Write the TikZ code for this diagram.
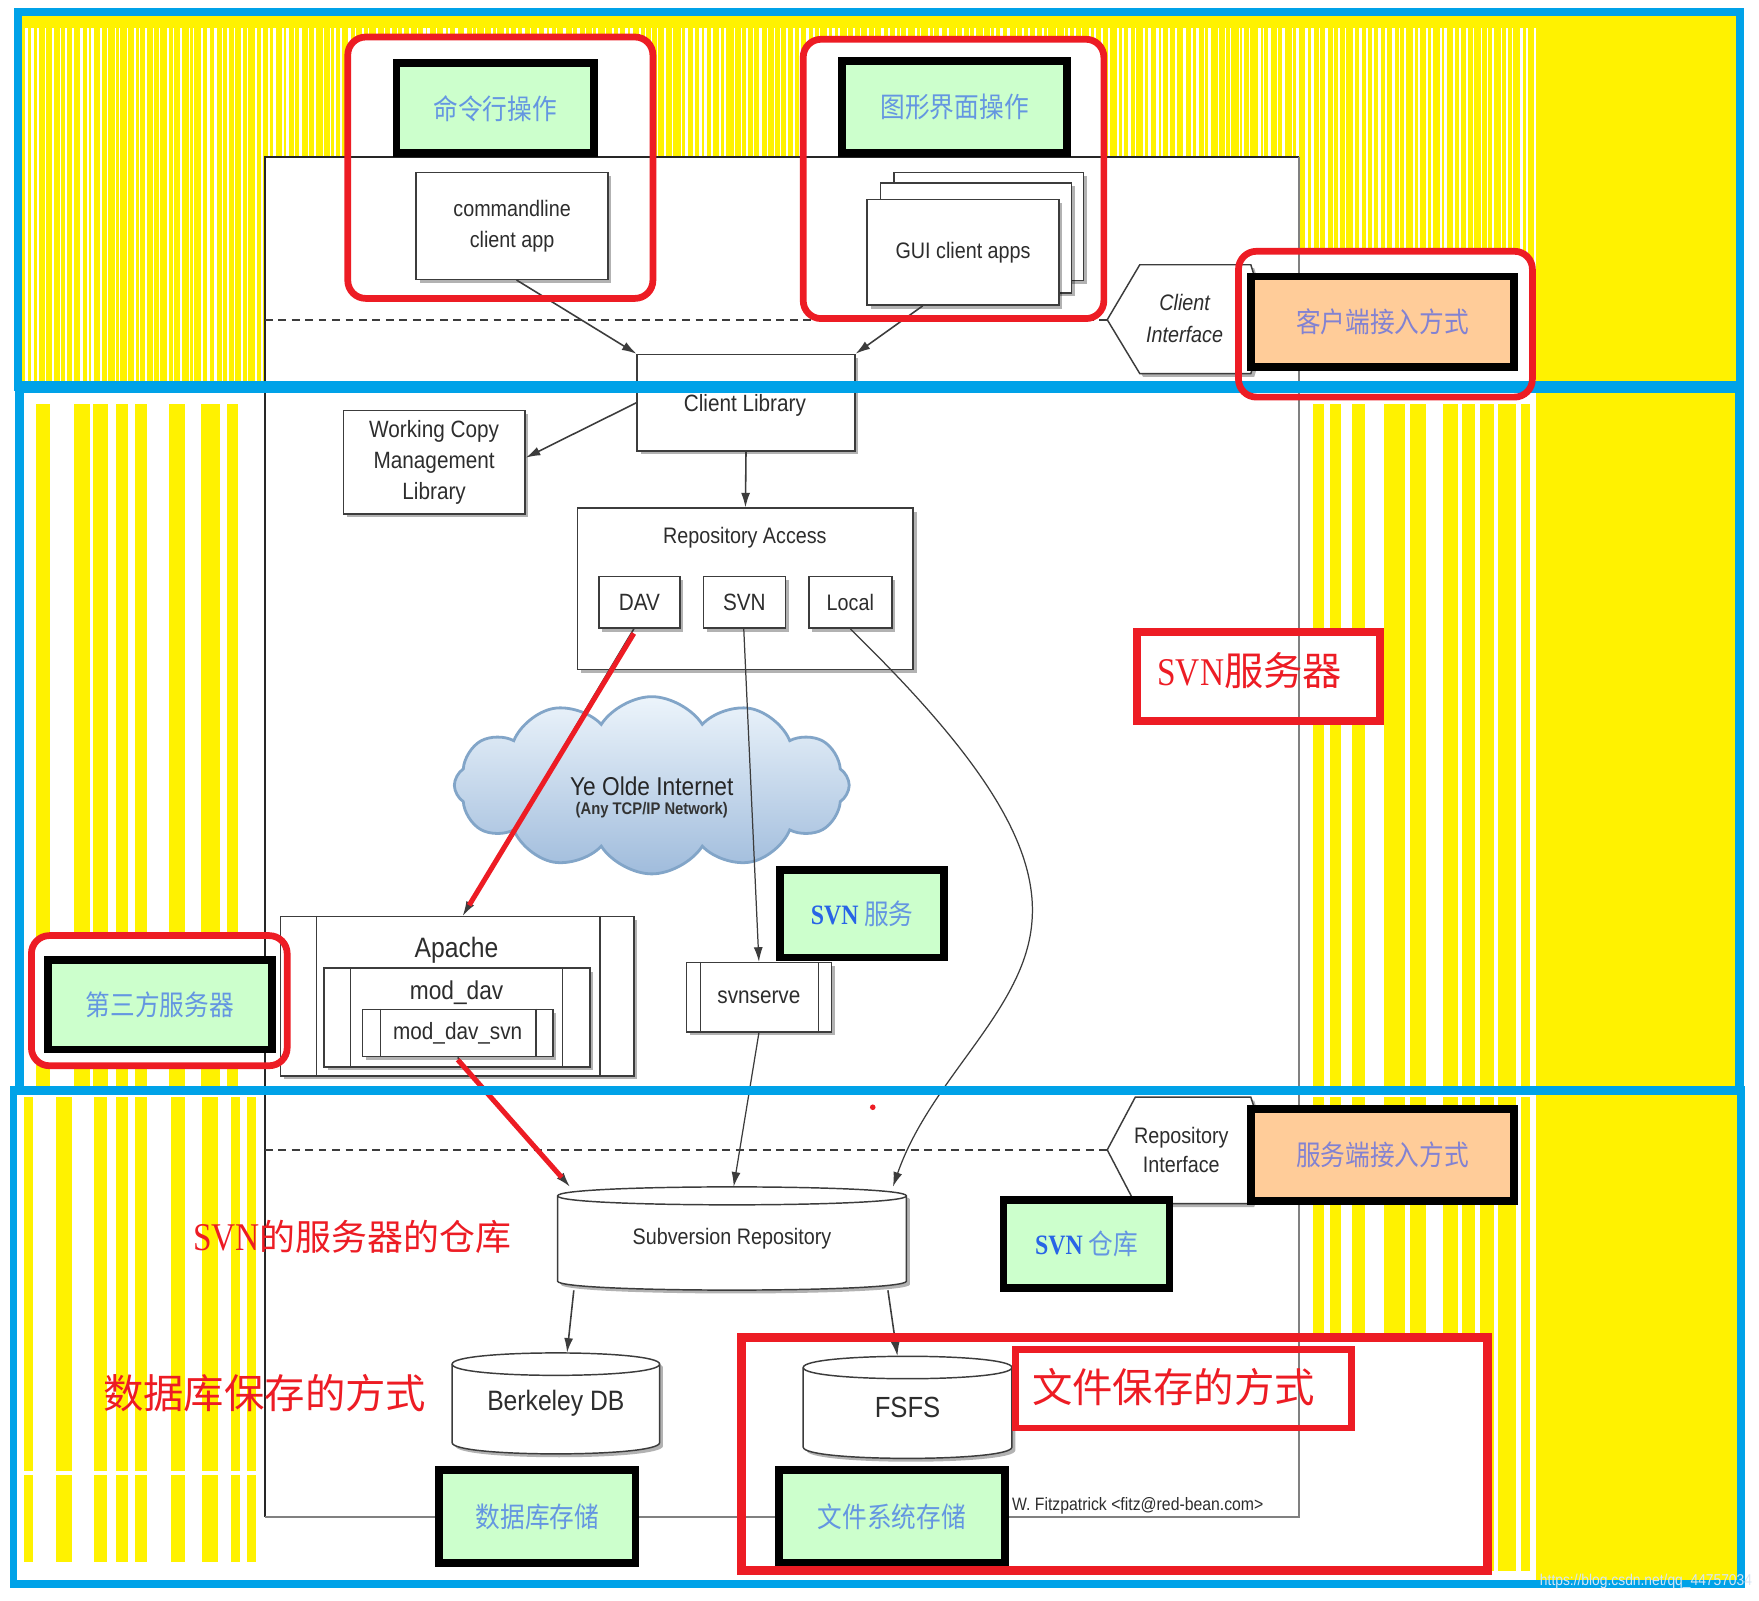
\documentclass[tikz,border=0pt]{standalone}
\usepackage{fontspec}
\setmainfont{Liberation Sans}
\newfontfamily\dgm[FakeStretch=0.88]{Liberation Sans}
\newfontfamily\cjkn[FakeStretch=0.88]{Noto Sans CJK SC}
\newfontfamily\cjkr{Noto Sans CJK SC}
\newfontfamily\serifn[FakeStretch=0.85]{Liberation Serif}
\usetikzlibrary{arrows.meta,shapes.symbols,shadows}
\definecolor{ylw}{RGB}{255,242,0}
\definecolor{bl}{RGB}{0,162,232}
\definecolor{red1}{RGB}{237,28,36}
\definecolor{lgreen}{RGB}{204,255,204}
\definecolor{lorange}{RGB}{255,204,153}
\definecolor{gtext}{RGB}{100,150,225}
\definecolor{otext}{RGB}{130,130,210}
\definecolor{sblue}{RGB}{40,100,230}
\definecolor{dg}{RGB}{60,60,60}
\definecolor{tg}{RGB}{45,45,45}
\definecolor{cbord}{RGB}{130,165,200}
\definecolor{ctop}{RGB}{236,244,251}
\definecolor{cbot}{RGB}{160,188,220}
\definecolor{wm}{RGB}{215,230,245}
\tikzset{
  bshadow/.style={drop shadow={shadow xshift=3pt,shadow yshift=-3pt,fill=black,opacity=0.3}},
  box/.style={draw=dg,line width=1.3pt,fill=white,inner sep=0pt,align=center,
    font=\dgm\fontsize{20}{28}\selectfont,text=tg,bshadow},
  txt/.style={inner sep=0pt,align=center,font=\dgm\fontsize{20}{28}\selectfont,text=tg},
  gbox/.style={draw=black,line width=7pt,fill=lgreen,inner sep=0pt,
    font=\cjkn\fontsize{25}{30}\selectfont,text=gtext},
  obox/.style={gbox,fill=lorange,text=otext},
  redr/.style={draw=red1,line width=6pt,rounded corners=16pt},
  redtxt/.style={inner sep=0pt,text=red1,font=\cjkr\fontsize{36}{40}\selectfont},
  arr/.style={draw=dg,line width=1.4pt,-{Latex[length=13pt,width=8pt]}},
  redarr/.style={draw=red1,line width=4.5pt,shorten >=11pt},
  dline/.style={draw=dg,line width=1.3pt},
  dashl/.style={draw=dg,line width=1.8pt,dash pattern=on 7pt off 5pt},
}
\newcommand\bx[7][box]{\node[#1,minimum width={#4-#2},minimum height={#5-#3}] (#6) at ({(#2+#4)/2},{(#3+#5)/2}) {#7};}
\newcommand\gbx[7][gbox]{\node[#1,minimum width={#4-#2-7},minimum height={#5-#3-7}] (#6) at ({(#2+#4)/2},{(#3+#5)/2}) {#7};}
\newcommand\cyl[7]{%
  \pgfmathsetmacro\cxl{#2-#5}%
  \pgfmathsetmacro\cxr{#2+#5}%
  \pgfmathsetmacro\cyc{#3+#6}%
  \pgfmathsetmacro\cyb{#4-#6}%
  \pgfmathsetmacro\kc{#6*1.333}%
  \draw[dline,fill=white,bshadow] (\cxl,\cyc) -- (\cxl,\cyb) .. controls (\cxl,\cyb+\kc) and (\cxr,\cyb+\kc) .. (\cxr,\cyb) -- (\cxr,\cyc) .. controls (\cxr,\cyc-\kc) and (\cxl,\cyc-\kc) .. cycle;
  \draw[dline] (\cxl,\cyc) .. controls (\cxl,\cyc+\kc) and (\cxr,\cyc+\kc) .. (\cxr,\cyc);
  \node[txt,minimum width={2*#5},minimum height={#4-#3}] (#1) at (#2,{(#3+#4)/2}) {#7};
}
\begin{document}
\begin{tikzpicture}[x=1pt,y=-1pt]
\useasboundingbox (0,0) rectangle (1568,1427);
\fill[white] (0,0) rectangle (1568,1427);
% ---------- yellow stripes ----------
\fill[ylw] (19,14) rectangle (1548,341);
\pgfmathsetseed{11}
\foreach \i in {0,...,224}{
  \pgfmathsetmacro\xx{22+\i*6+rnd*3}
  \pgfmathsetmacro\ww{0.6+rnd*2.2}
  \draw[white,line width=\ww pt] (\xx,25) -- (\xx,341);
}
\fill[ylw] (1369,350) rectangle (1548,968);
\foreach \a/\b in {32/45,66/80,83/96,103/114,120/131,151/165,179/196,202/212,1170/1180,1186/1195,1205/1217,1234/1252,1257/1271,1286/1300,1303/1315,1319/1332,1335/1351,1356/1364}
  {\fill[ylw] (\a,360) rectangle (\b,968);}
\fill[ylw] (1369,976) rectangle (1548,1409);
\foreach \a/\b in {21/29,50/64,84/95,103/114,120/131,152/165,180/194,206/214,220/228}
  {\fill[ylw] (\a,978) rectangle (\b,1392);}
\foreach \a/\b in {1170/1180,1186/1195,1205/1217,1234/1252,1257/1271,1286/1300,1303/1315,1319/1332,1335/1351,1356/1364}
  {\fill[ylw] (\a,978) rectangle (\b,1400);}
\fill[white] (19,1311) rectangle (232,1315);
% ---------- white interiors of red marks ----------
\fill[white,rounded corners=16pt] (310,33) rectangle (582,266);
\fill[white,rounded corners=16pt] (716,35) rectangle (984,284);
\fill[white,rounded corners=16pt] (1104,224) rectangle (1366,354);
\fill[white,rounded corners=16pt] (28,834) rectangle (256,950);
\fill[white] (1013.5,563.5) rectangle (1230.5,642.5);
\fill[white] (661,1192) rectangle (1326,1400);
% ---------- diagram frame ----------
\fill[white] (236,140) rectangle (1158,1352);
\draw[black!85,line width=2pt] (236,1352) -- (236,140) -- (1158,140);
\draw[black!50,line width=2pt] (1158,140) -- (1158,1352) -- (236,1352);
% dashed boundaries
\coordinate (dl1) at (236,285);
\coordinate (citip) at (987,285);
\coordinate (dl2) at (236,1025);
\coordinate (ritip) at (987,1025);
\draw[dashl] (dl1) -- (citip);
\draw[dashl] (dl2) -- (ritip);
% interface hexagons
\draw[dline,fill=white,bshadow] (citip) -- (1016,236) -- (1115,236) -- (1130,285) -- (1115,333) -- (1016,333) -- cycle;
\draw[dline,fill=white,bshadow] (ritip) -- (1012,978) -- (1115,978) -- (1130,1025) -- (1115,1073) -- (1012,1073) -- cycle;
\node[txt,font=\dgm\itshape\fontsize{20}{28}\selectfont] (cit) at (1056,284) {Client\\Interface};
\node[txt,font=\dgm\fontsize{20}{26}\selectfont] (rit) at (1053,1025) {Repository\\Interface};
% ---------- boxes ----------
\bx{371}{154}{542}{249}{cmdapp}{commandline\\client app}
\bx{797}{154}{966}{250}{guib}{}
\bx{785}{163}{955}{261}{guim}{}
\bx{773}{178}{944}{272}{gui}{GUI client apps}
\bx{568}{316}{762}{402}{clib}{}
\node[txt,font=\dgm\fontsize{21}{26}\selectfont] (clibt) at (664,361) {Client Library};
\bx[box,font=\dgm\fontsize{21}{27.5}\selectfont]{306}{366}{468}{458}{wcml}{Working Copy\\Management\\Library}
\bx{515}{453}{814}{597}{ra}{}
\node[txt] (rat) at (664,479) {Repository Access};
\bx[box,font=\dgm\fontsize{21}{26}\selectfont]{534}{514}{606}{560}{dav}{DAV}
\bx[box,font=\dgm\fontsize{21}{26}\selectfont]{627}{514}{700}{560}{svnb}{SVN}
\bx{721}{514}{795}{560}{local}{Local}
% cloud
\node[cloud,cloud puffs=12,cloud puff arc=115,aspect=2.2,draw=cbord,line width=2.5pt,
  top color=ctop,bottom color=cbot,minimum width=352pt,minimum height=158pt,inner sep=0pt] (net) at (581,700) {};
\node[txt,font=\dgm\fontsize{23}{26}\selectfont,text=black!85] (yeo) at (581,701) {Ye Olde Internet};
\node[txt,font=\dgm\bfseries\fontsize{15}{17}\selectfont,text=black!80] (anytcp) at (581,722) {(Any TCP/IP Network)};
% apache & svnserve
\bx{250}{817}{565}{959}{apache}{}
\draw[dline] ([xshift=33pt]apache.north west) -- ([xshift=33pt]apache.south west);
\draw[dline] ([xshift=-31pt]apache.north east) -- ([xshift=-31pt]apache.south east);
\node[txt,font=\dgm\fontsize{25}{28}\selectfont] (apt) at (407,847) {Apache};
\bx[box,drop shadow={opacity=0}]{289}{863}{526}{951}{moddav}{}
\draw[dline] ([xshift=24pt]moddav.north west) -- ([xshift=24pt]moddav.south west);
\draw[dline] ([xshift=-25pt]moddav.north east) -- ([xshift=-25pt]moddav.south east);
\node[txt,font=\dgm\fontsize{23}{26}\selectfont] (mdt) at (407,885) {mod\_dav};
\bx[box,font=\dgm\fontsize{21}{24}\selectfont]{323}{900}{493}{942}{moddavsvn}{mod\_dav\_svn}
\draw[dline] ([xshift=17pt]moddavsvn.north west) -- ([xshift=17pt]moddavsvn.south west);
\draw[dline] ([xshift=-16pt]moddavsvn.north east) -- ([xshift=-16pt]moddavsvn.south east);
\bx[box,font=\dgm\fontsize{21}{24}\selectfont]{612}{858}{741}{920}{svnserve}{svnserve}
\draw[dline] ([xshift=13pt]svnserve.north west) -- ([xshift=13pt]svnserve.south west);
\draw[dline] ([xshift=-12pt]svnserve.north east) -- ([xshift=-12pt]svnserve.south east);
% repositories
\cyl{repo}{652.5}{1058}{1150}{155.5}{8}{Subversion Repository}
\cyl{bdb}{495.5}{1206}{1296}{92.5}{10}{\fontsize{25}{28}\selectfont Berkeley DB}
\cyl{fsfs}{809}{1209}{1300}{93}{10}{\fontsize{26}{28}\selectfont FSFS}
\node[txt,font=\dgm\fontsize{16}{18}\selectfont,anchor=west] (credit) at (902,1342) {W. Fitzpatrick <fitz@red-bean.com>};
% ---------- connectors ----------
\draw[arr] ([xshift=4pt]cmdapp.south) -- (clib.north west);
\draw[arr] ([xshift=-36pt]gui.south) -- (clib.north east);
\draw[arr] (clib.west) -- ([yshift=4pt]wcml.east);
\draw[arr] (clib.south) -- (ra.north);
\draw[arr] ([xshift=-5pt]dav.south) -- ([xshift=5pt]apache.north);
\draw[redarr] ([xshift=-5pt,yshift=-4pt]dav.south) -- ([xshift=5pt]apache.north);
\draw[arr,line width=1.1pt] ([xshift=-0.5pt]svnb.south) -- (svnserve.north);
\draw[arr,line width=1.1pt] (local.south) .. controls (870,670) and (925,750) .. (920,820) .. controls (915,900) and (830,960) .. ([xshift=143.5pt]repo.north);
\draw[arr,line width=1.1pt] (svnserve.south) -- ([xshift=1.5pt]repo.north);
\draw[arr] (moddavsvn.south) -- ([xshift=-144.5pt]repo.north);
\draw[redarr] ([yshift=-2pt]moddavsvn.south) -- ([xshift=-144.5pt]repo.north);
\draw[arr] ([xshift=-141pt]repo.south) -- ([xshift=10pt]bdb.north);
\draw[arr] ([xshift=139pt]repo.south) -- ([xshift=-9pt]fsfs.north);
\fill[red1] (778,987) circle (2.5pt);
% ---------- annotation boxes ----------
\gbx{350}{53}{533}{140}{cmdop}{命令行操作}
\gbx{747}{51}{955}{140}{guiop}{图形界面操作}
\gbx[obox]{1112}{243}{1353}{331}{ciop}{客户端接入方式}
\gbx{692}{772}{845}{857}{svnsvc}{{\serifn\bfseries\color{sblue}SVN} 服务}
\gbx{39}{852}{246}{939}{third}{第三方服务器}
\gbx[obox]{1112}{985}{1353}{1074}{siop}{服务端接入方式}
\gbx{891}{1066}{1046}{1152}{svnrepo}{{\serifn\bfseries\color{sblue}SVN} 仓库}
\gbx{388}{1307}{570}{1397}{dbst}{数据库存储}
\gbx{691}{1307}{899}{1397}{fsst}{文件系统存储}
% ---------- blue frame ----------
\draw[bl,line width=7.5pt] (16,10.5) rectangle (1551,345);
\draw[bl,line width=8pt] (17,345) rectangle (1551,972);
\draw[bl,line width=11pt] (16,345) -- (1551,345);
\draw[bl,line width=7pt] (12,972) rectangle (1552,1412);
% ---------- red marks ----------
\draw[redr] (310,33) rectangle (582,266);
\draw[redr] (716,35) rectangle (984,284);
\draw[redr] (1104,224) rectangle (1366,354);
\draw[redr] (28,834) rectangle (256,950);
\draw[red1,line width=7pt] (1013.5,563.5) rectangle (1230.5,642.5);
\draw[red1,line width=8pt] (661,1192) rectangle (1326,1400);
\draw[red1,line width=6pt] (905,1203) rectangle (1205,1273);
\node[redtxt,font=\cjkr\fontsize{35}{40}\selectfont] (lbl1) at (1114,598) {{\serifn SVN}服务器};
\node[redtxt,font=\cjkr\fontsize{32}{40}\selectfont] (lbl2) at (314,1103) {{\serifn\fontsize{35}{40}\selectfont SVN}的服务器的仓库};
\node[redtxt] (lbl3) at (236,1242) {数据库保存的方式};
\node[redtxt] (lbl4) at (1046,1236) {文件保存的方式};
% watermark
\node[txt,font=\dgm\fontsize{14}{16}\selectfont,text=wm,anchor=east] (wmk) at (1562,1410) {https://blog.csdn.net/qq\_44757034};
\end{tikzpicture}
\end{document}
